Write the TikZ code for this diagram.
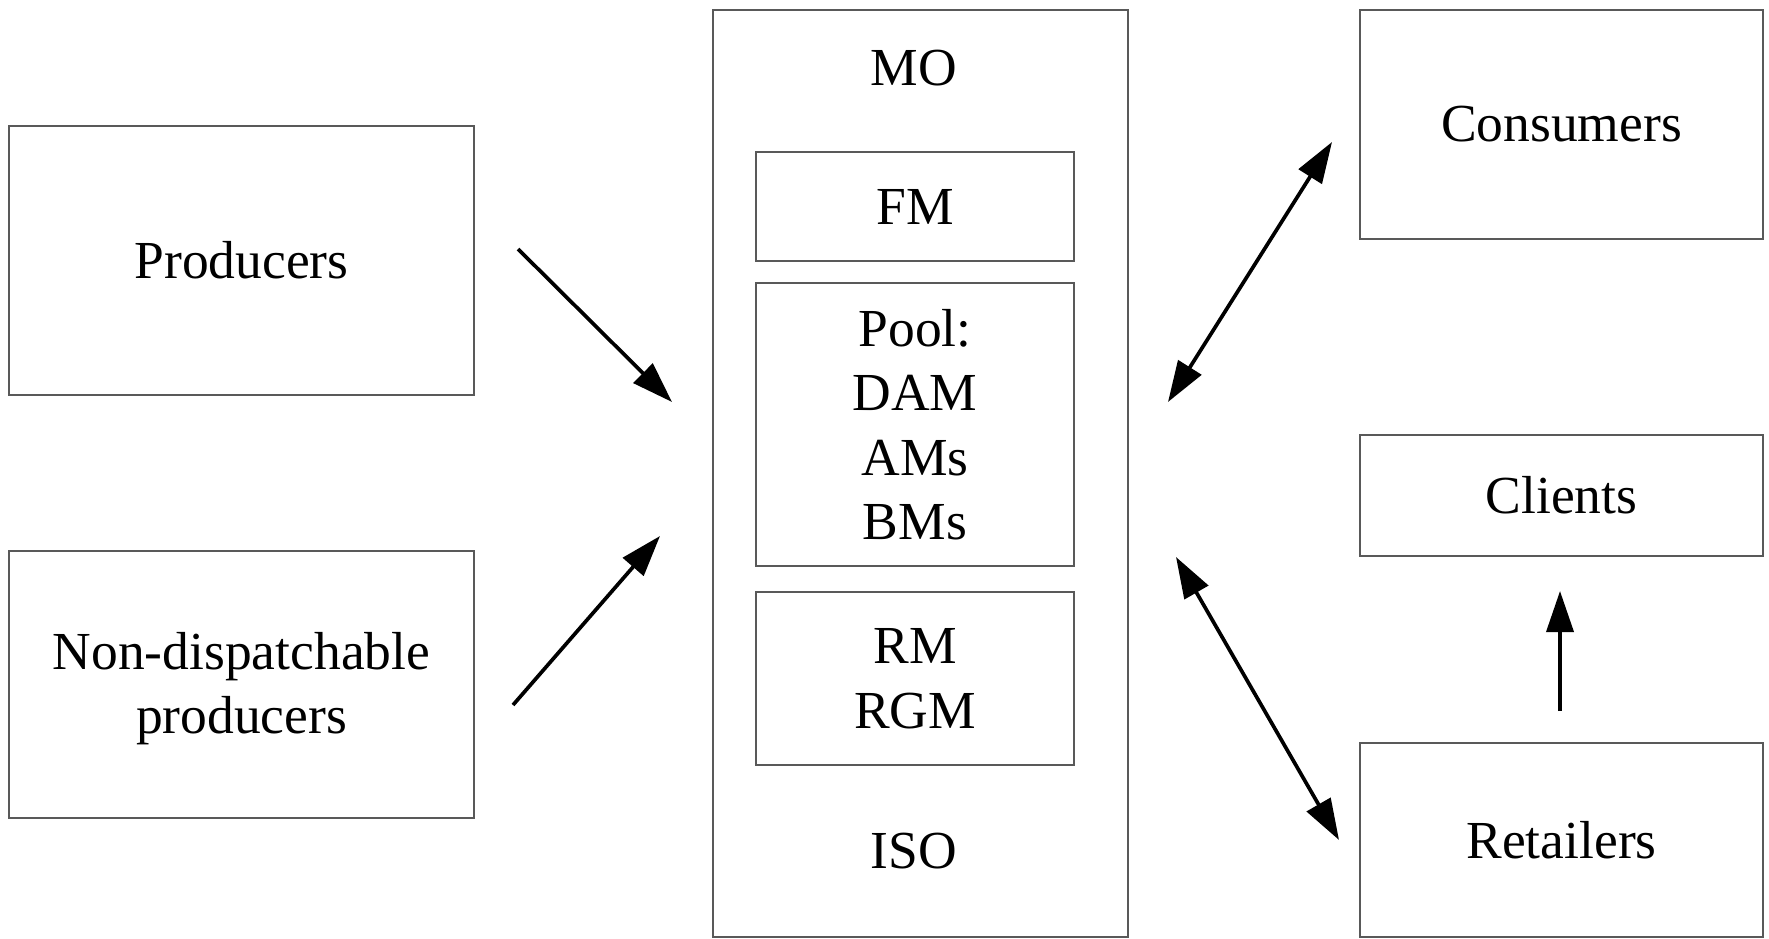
\documentclass[tikz,border=0pt]{standalone}
\usepackage{fontspec}
\setmainfont{Liberation Serif}
\usetikzlibrary{arrows.meta}
\begin{document}
\begin{tikzpicture}[x=1pt,y=-1pt,
  box/.style={draw=black!65, line width=2pt, inner sep=0pt, align=center,
    font=\fontsize{53.5}{64.5}\selectfont},
  lbl/.style={inner sep=0pt, anchor=base, font=\fontsize{53.5}{64.5}\selectfont},
  arr/.style={line width=3.7pt, -{Triangle[length=41pt,width=27pt]}},
  dbl/.style={line width=3.7pt, {Triangle[length=41pt,width=27pt]}-{Triangle[length=41pt,width=27pt]}}
]
\useasboundingbox (0,0) rectangle (1769,939);
% left boxes
\node[box, minimum width=465pt, minimum height=269pt] (prod) at (241.5,260.5) {Producers};
\node[box, minimum width=465pt, minimum height=267pt] (ndp) at (241.5,684.5) {};
\node[inner sep=0pt, align=center, font=\fontsize{53.5}{64.5}\selectfont] (ndptxt) at (241.5,688.5) {Non-dispatchable\\producers};
% MO outer
\node[box, minimum width=415pt, minimum height=927pt] (mo) at (920.5,473.5) {};
\node[lbl] (motxt) at (914,86) {MO};
\node[lbl] (iso) at (914,868) {ISO};
% inner boxes
\node[box, minimum width=318pt, minimum height=109pt] (fm) at (915,206.5) {FM};
\node[box, minimum width=318pt, minimum height=283pt] (pool) at (915,424.5) {Pool:\\DAM\\AMs\\BMs};
\node[box, minimum width=318pt, minimum height=173pt] (rm) at (915,678.5) {RM\\RGM};
% right boxes
\node[box, minimum width=403pt, minimum height=229pt] (cons) at (1561.5,124.5) {Consumers};
\node[box, minimum width=403pt, minimum height=121pt] (cli) at (1561.5,495.5) {Clients};
\node[box, minimum width=403pt, minimum height=194pt] (ret) at (1561.5,840) {Retailers};
% arrow end points
\coordinate (a1s) at (518,249);
\coordinate (a1e) at (672,402);
\coordinate (a2s) at (513,705);
\coordinate (a2e) at (660,536);
\coordinate (a3s) at (1168,402);
\coordinate (a3e) at (1332,142);
\coordinate (a4s) at (1176,557);
\coordinate (a4e) at (1339,840);
\coordinate (a5s) at (1560,711);
\coordinate (a5e) at (1560,591);
\draw[arr] (a1s) -- (a1e);
\draw[arr] (a2s) -- (a2e);
\draw[dbl] (a3s) -- (a3e);
\draw[dbl] (a4s) -- (a4e);
\draw[arr] (a5s) -- (a5e);
\end{tikzpicture}
\end{document}
